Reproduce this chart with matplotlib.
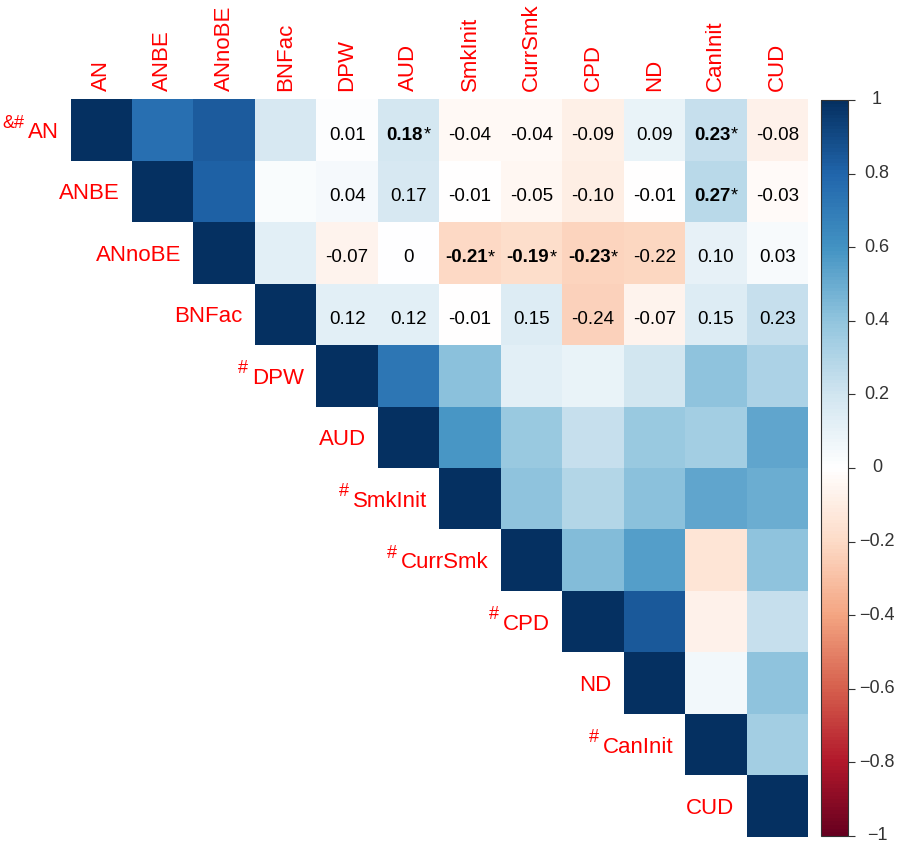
import numpy as np
import matplotlib
matplotlib.use("Agg")
import matplotlib.pyplot as plt
from matplotlib.colors import LinearSegmentedColormap, Normalize
from matplotlib.colorbar import ColorbarBase
import matplotlib.transforms as mtransforms

plt.rcParams['font.family'] = ['Liberation Sans', 'DejaVu Sans']

# ---------------- data ----------------
variables = ["AN", "ANBE", "ANnoBE", "BNFac", "DPW", "AUD", "SmkInit",
             "CurrSmk", "CPD", "ND", "CanInit", "CUD"]
row_prefix = ["&#", "", "", "", "#", "", "#", "#", "#", "", "#", ""]

# upper-triangle correlation values, row by row (starting at the diagonal)
r_AN      = [1, 0.75, 0.83, 0.17, 0.01, 0.18, -0.04, -0.04, -0.09, 0.09, 0.23, -0.08]
r_ANBE    = [1, 0.82, 0.02, 0.04, 0.17, -0.01, -0.05, -0.10, -0.01, 0.27, -0.03]
r_ANnoBE  = [1, 0.13, -0.07, 0.0, -0.21, -0.19, -0.23, -0.22, 0.10, 0.03]
r_BNFac   = [1, 0.12, 0.12, -0.01, 0.15, -0.24, -0.07, 0.15, 0.23]
r_DPW     = [1, 0.72, 0.41, 0.12, 0.09, 0.19, 0.40, 0.31]
r_AUD     = [1, 0.58, 0.37, 0.23, 0.37, 0.34, 0.52]
r_SmkInit = [1, 0.40, 0.29, 0.41, 0.52, 0.49]
r_CurrSmk = [1, 0.43, 0.55, -0.15, 0.40]
r_CPD     = [1, 0.84, -0.08, 0.23]
r_ND      = [1, 0.05, 0.40]
r_CanInit = [1, 0.34]
r_CUD     = [1]
rows = [r_AN, r_ANBE, r_ANnoBE, r_BNFac, r_DPW, r_AUD, r_SmkInit,
        r_CurrSmk, r_CPD, r_ND, r_CanInit, r_CUD]

# cells shown as numbers (rows 0-3, columns 4-11) and significance marks
text_rows = [0, 1, 2, 3]
text_col_start = 4
significant = [(0, 5), (0, 10), (1, 10), (2, 6), (2, 7), (2, 8)]

cbar_ticks = [-1, -0.8, -0.6, -0.4, -0.2, 0, 0.2, 0.4, 0.6, 0.8, 1]
cbar_labels = ["\u22121", "\u22120.8", "\u22120.6", "\u22120.4", "\u22120.2", "0",
               "0.2", "0.4", "0.6", "0.8", "1"]

# ---------------- build matrix ----------------
n = len(variables)
M = np.full((n, n), np.nan)
for i, r in enumerate(rows):
    for k, v in enumerate(r):
        M[i, i + k] = v

cmap = LinearSegmentedColormap.from_list(
    "corrRdBu", ["#67001F", "#B2182B", "#D6604D", "#F4A582", "#FDDBC7", "#FFFFFF",
                 "#D1E5F0", "#92C5DE", "#4393C3", "#2166AC", "#053061"], N=200)
norm = Normalize(-1, 1)

W, H = 900, 844
fig = plt.figure(figsize=(W / 100, H / 100), dpi=100)

x0, x1 = 70.5, 808.0
y0, y1 = 99.3, 836.7
ax = fig.add_axes([x0 / W, 1 - y1 / H, (x1 - x0) / W, (y1 - y0) / H])
masked = np.ma.masked_invalid(M)
ax.pcolormesh(np.arange(n + 1), np.arange(n + 1), masked, cmap=cmap, norm=norm,
              edgecolors='none')
ax.set_xlim(0, n)
ax.set_ylim(n, 0)
ax.axis('off')

NUM_FS = 13.5
STAR_FS = 13
# cell text
sig = set(significant)
renderer = fig.canvas.get_renderer()
for i in text_rows:
    for j in range(text_col_start, n):
        v = M[i, j]
        s = "0" if v == 0 else f"{v:.2f}"
        if (i, j) in sig:
            t1 = ax.text(0, 0, s, fontsize=NUM_FS, fontweight='bold')
            t2 = ax.text(0, 0, "*", fontsize=STAR_FS)
            w1 = t1.get_window_extent(renderer).width
            w2 = t2.get_window_extent(renderer).width
            t1.remove(); t2.remove()
            tot = w1 + w2
            base = mtransforms.offset_copy(ax.transData, fig=fig, x=-tot / 2, y=-3, units='dots')
            ax.text(j + 0.5, i + 0.5, s, fontsize=NUM_FS, fontweight='bold', color='black',
                    ha='left', va='center_baseline', transform=base)
            tr2 = mtransforms.offset_copy(ax.transData, fig=fig, x=-tot / 2 + w1, y=-3, units='dots')
            ax.text(j + 0.5, i + 0.5, "*", fontsize=STAR_FS, color='black',
                    ha='left', va='center_baseline', transform=tr2)
        else:
            tr = mtransforms.offset_copy(ax.transData, fig=fig, x=0, y=-3, units='dots')
            ax.text(j + 0.5, i + 0.5, s, fontsize=NUM_FS, color='black',
                    ha='center', va='center_baseline', transform=tr)

# row labels
lab_color = '#FF0000'
for i, name in enumerate(variables):
    tr = mtransforms.offset_copy(ax.transData, fig=fig, x=-12, y=0, units='dots')
    t = ax.text(i, i + 0.5, name, fontsize=16, color=lab_color, ha='right',
                va='center_baseline', transform=tr)
    if row_prefix[i]:
        w = t.get_window_extent(renderer).width
        gap = 3 if len(row_prefix[i]) > 1 else 4
        trp = mtransforms.offset_copy(ax.transData, fig=fig, x=-12 - w - gap, y=9, units='dots')
        ax.text(i, i + 0.5, row_prefix[i], fontsize=13, color=lab_color, ha='right',
                va='center_baseline', transform=trp)

# column labels
for j, name in enumerate(variables):
    tr = mtransforms.offset_copy(ax.transData, fig=fig, x=0, y=8, units='dots')
    ax.text(j + 0.5, 0, name, fontsize=16, color=lab_color, rotation=90,
            ha='center', va='bottom', transform=tr)

# colorbar
cx0, cx1 = 821, 848
cax = fig.add_axes([cx0 / W, 1 - 836 / H, (cx1 - cx0) / W, (836 - 100) / H])
cb = ColorbarBase(cax, cmap=cmap, norm=norm, orientation='vertical')
cb.outline.set_linewidth(0.8)
cb.outline.set_edgecolor('#333333')
cb.set_ticks(cbar_ticks)
cax.tick_params(axis='y', length=5, width=0.8, color='#333333', labelright=False,
                right=True, left=False)
for tv, tl in zip(cbar_ticks, cbar_labels):
    cax.text(1 + 29 / (cx1 - cx0), tv, tl, fontsize=13, color='#333333',
             ha='center', va='center', transform=cax.get_yaxis_transform())

fig.savefig("out.png", dpi=100)
